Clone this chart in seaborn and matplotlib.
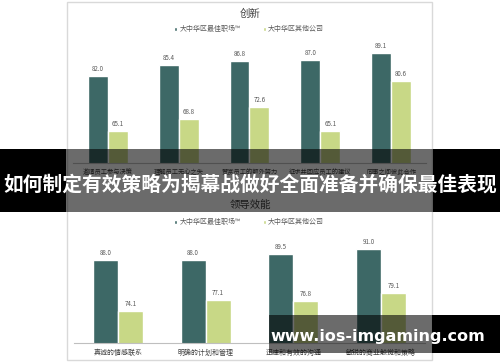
import matplotlib
matplotlib.use("Agg")
import matplotlib.pyplot as plt
from matplotlib.patches import Rectangle, Patch
import seaborn as sns
import pandas as pd

sns.set_style("white")
plt.rcParams['font.family'] = ['Noto Sans CJK SC', 'DejaVu Sans']

series_names = ["大中华区最佳职场™", "大中华区其他公司"]

top_title = "创新"
top_categories = ["邀请员工参与决策", "理解员工无心之失", "赞赏员工的额外努力",
                  "征求并回应员工的建议", "同事之间彼此合作"]
top_best = [82.0, 85.4, 86.8, 87.0, 89.1]
top_other = [65.1, 68.8, 72.6, 65.1, 80.6]

bot_title = "领导效能"
bot_categories = ["真诚的情感联系", "明确的计划和管理", "迅速和有效的沟通", "敏锐的商业触觉和策略"]
bot_best = [88.0, 88.0, 89.5, 91.0]
bot_other = [74.1, 77.1, 76.8, 79.1]

banner_text = "如何制定有效策略为揭幕战做好全面准备并确保最佳表现"
watermark_text = "www.ios-imgaming.com"

DARK = "#3d6866"
LIGHT = "#c8d886"
W, H = 500, 362

fig = plt.figure(figsize=(5.0, 3.62), dpi=100)


def fx(x):
    return x / W


def fy(y):
    return 1 - y / H


def axes_px(left, right, top, bottom):
    return fig.add_axes([fx(left), fy(bottom), (right - left) / W, (bottom - top) / H])


# panel background
fig.patches.append(Rectangle((fx(67), fy(360)), (432 - 67) / W, (360 - 2) / H,
                             transform=fig.transFigure, facecolor="white",
                             edgecolor="#d9d9d9", lw=1.0, zorder=-1))


def make_chart(ax, cats, best, other, ymin, ymax, width, labsize):
    df = pd.DataFrame({
        "cat": cats * 2,
        "val": best + other,
        "series": [series_names[0]] * len(cats) + [series_names[1]] * len(cats),
    })
    sns.barplot(data=df, x="cat", y="val", hue="series", palette=[DARK, LIGHT],
                width=width, saturation=1, ax=ax, legend=False, errorbar=None)
    ax.set_facecolor("none")
    ax.set_ylim(ymin, ymax)
    ax.set_xlim(-0.5, len(cats) - 0.5)
    ax.set_xlabel("")
    ax.set_ylabel("")
    ax.set_yticks([])
    for s in ["top", "left", "right"]:
        ax.spines[s].set_visible(False)
    ax.spines["bottom"].set_color("#bfbfbf")
    ax.spines["bottom"].set_linewidth(0.8)
    ax.tick_params(axis="x", which="major", length=0, pad=4, labelsize=labsize,
                   labelcolor="#404040")
    ax.set_xticks([i - 0.5 for i in range(len(cats) + 1)], minor=True)
    ax.tick_params(axis="x", which="minor", length=3, color="#bfbfbf", width=0.8,
                   direction="out")
    for cont in ax.containers:
        ax.bar_label(cont, fmt="%.1f", padding=2, fontsize=4.5, color="#595959")


ax1 = axes_px(72.6, 426.4, 40, 163)
make_chart(ax1, top_categories, top_best, top_other, 55.3, 55.3 + 123 / 3.25, 0.565, 4.5)

ax2 = axes_px(74, 425, 240, 343)
make_chart(ax2, bot_categories, bot_best, bot_other, 65.5, 65.5 + 103 / 3.7, 0.57, 5)

fig.text(fx(250), fy(14), top_title, ha="center", va="center", fontsize=7.5, color="#404040")
fig.text(fx(250), fy(205), bot_title, ha="center", va="center", fontsize=7.5, color="#404040")

handles = [Patch(facecolor=DARK), Patch(facecolor=LIGHT)]
for yy in (29, 222):
    leg = fig.legend(handles, series_names, loc="center", bbox_to_anchor=(fx(249), fy(yy)),
                     ncol=2, frameon=False, fontsize=5, handlelength=0.5, handleheight=0.5,
                     columnspacing=3.2, handletextpad=0.3, labelcolor="#595959")

# banner overlay
fig.patches.append(Rectangle((0, fy(212)), fx(66), (212 - 149) / H, transform=fig.transFigure,
                             facecolor="black", edgecolor="none", zorder=10))
fig.patches.append(Rectangle((fx(433), fy(212)), fx(500 - 433), (212 - 149) / H,
                             transform=fig.transFigure, facecolor="black", edgecolor="none", zorder=10))
fig.patches.append(Rectangle((fx(66), fy(212)), fx(433 - 66), (212 - 149) / H,
                             transform=fig.transFigure, facecolor="black", alpha=0.58,
                             edgecolor="none", zorder=10))
fig.text(fx(250), fy(185), banner_text, ha="center", va="center", fontsize=14.2,
         fontweight="bold", color="white", zorder=11)

# watermark overlay
fig.patches.append(Rectangle((fx(269), fy(353)), fx(432 - 269), (353 - 315) / H,
                             transform=fig.transFigure, facecolor="black", alpha=0.58,
                             edgecolor="none", zorder=10))
fig.patches.append(Rectangle((fx(432), fy(353)), fx(500 - 432), (353 - 315) / H,
                             transform=fig.transFigure, facecolor="black",
                             edgecolor="none", zorder=10))
fig.text(fx(378), fy(336), watermark_text, ha="center", va="center", fontsize=11.5,
         fontweight="bold", color="white", family=["DejaVu Sans"], zorder=11)

fig.savefig("out.png", dpi=100)
